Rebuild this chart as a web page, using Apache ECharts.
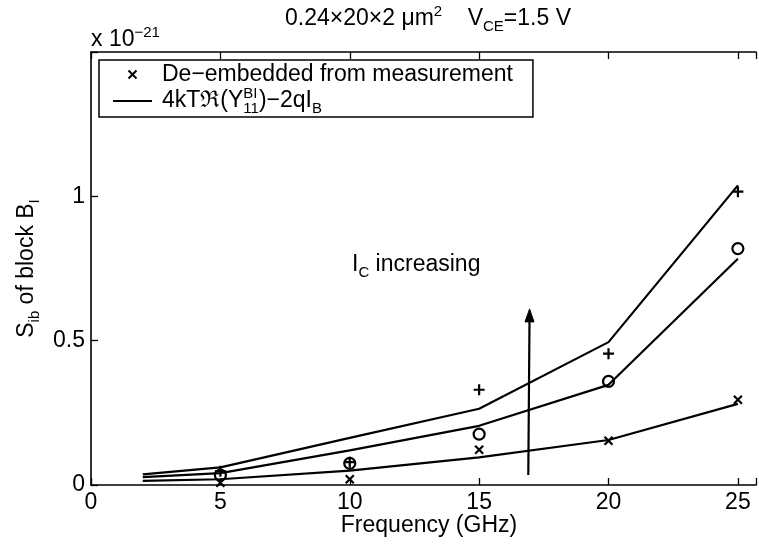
<!DOCTYPE html>
<html>
<head>
<meta charset="utf-8">
<script src="https://cdn.jsdelivr.net/npm/echarts@6/dist/echarts.min.js"></script>
<style>
  html, body { margin: 0; padding: 0; background: #fff; }
  #chart { width: 759px; height: 550px; }
</style>
</head>
<body>
<div id="chart"></div>
<script>
// Frequencies (GHz) of the model curves and of the de-embedded points
const freqModel = [2, 5, 10, 15, 20, 25];
const freqMeas = [5, 10, 15, 20, 25];

// Model curves 4kT Re(Y11^BI) - 2qI_B, in units of 1e-21, low / mid / high I_C
const modelLow  = [0.014, 0.020, 0.050, 0.096, 0.156, 0.281];
const modelMid  = [0.027, 0.041, 0.120, 0.205, 0.347, 0.784];
const modelHigh = [0.037, 0.061, 0.163, 0.264, 0.495, 1.038];

// De-embedded points, same units
const measLow  = [0.008, 0.020, 0.122, 0.153, 0.295];
const measMid  = [0.034, 0.075, 0.176, 0.359, 0.819];
const measHigh = [0.048, 0.079, 0.330, 0.455, 1.016];

// Axis ticks
const xTicks = [0, 5, 10, 15, 20, 25];
const yTicks = [0, 0.5, 1];

// "I_C increasing" arrow: [x0, y0, x1, y1] in data units
const arrowSeg = [16.9, 0.035, 16.95, 0.61];

const FONT = "'Liberation Sans', Arial, Helvetica, sans-serif";
const FS = 23;

const pairs = (xs, ys) => xs.map((x, i) => [x, ys[i]]);

const baseRich = {
  t:   { fontFamily: FONT, fontSize: FS, color: '#000', lineHeight: 30 },
  sup: { fontFamily: FONT, fontSize: 15, color: '#000', lineHeight: 12, verticalAlign: 'top' },
  sub: { fontFamily: FONT, fontSize: 15, color: '#000', lineHeight: 12, verticalAlign: 'bottom' },
  sup0:{ fontFamily: FONT, fontSize: 15, color: '#000', lineHeight: 12, verticalAlign: 'top', width: 0 }
};

const markerX = 'path://M0 0L10 10M10 0L0 10';
const markerPlus = 'path://M5 0L5 10M0 5L10 5';
const legendLine = 'path://M0 0H39V2.2H0Z';

const measName = 'De\u2212embedded from measurement';
const modelName = 'model';

const lineSeries = (data) => ({
  type: 'line',
  name: modelName,
  data: pairs(freqModel, data),
  symbol: 'none',
  lineStyle: { color: '#000', width: 2.2 },
  itemStyle: { color: '#000' },
  silent: true,
  z: 3
});

const markerSeries = (name, data, symbol, size) => ({
  type: 'scatter',
  name: name,
  data: pairs(freqMeas, data),
  symbol: symbol,
  symbolSize: size,
  symbolKeepAspect: true,
  itemStyle: { color: 'rgba(0,0,0,0)', borderColor: '#000', borderWidth: 2.2, opacity: 1 },
  silent: true,
  z: 4
});

const chart = echarts.init(document.getElementById('chart'), null, { renderer: 'canvas' });

const axisCommon = {
  type: 'value',
  axisLine: { show: true, onZero: false, lineStyle: { color: '#000', width: 1.6 } },
  axisTick: { show: true, inside: true, length: 7, lineStyle: { color: '#000', width: 1.3 } },
  splitLine: { show: false }
};

chart.setOption({
  animation: false,
  backgroundColor: '#fff',
  // the box runs on past the right edge of the page; only 0..25.7 GHz is in view
  grid: { left: 91, top: 52, width: 668, height: 433, containLabel: false },
  xAxis: [
    Object.assign({}, axisCommon, {
      position: 'bottom', min: 0, max: 25.7, interval: 5,
      axisLabel: {
        color: '#000', fontFamily: FONT, fontSize: FS, margin: 6,
        formatter: v => (xTicks.includes(v) ? String(v) : '')
      }
    }),
    Object.assign({}, axisCommon, {
      position: 'top', min: 0, max: 25.7, interval: 5,
      axisLabel: { show: false }
    })
  ],
  yAxis: [
    Object.assign({}, axisCommon, {
      position: 'left', min: 0, max: 1.5, interval: 0.5,
      axisLabel: {
        color: '#000', fontFamily: FONT, fontSize: FS, margin: 6,
        formatter: v => (yTicks.includes(v) ? String(v) : '')
      },
      name: '{t|S}{sub|ib}{t| of block B}{sub|I}',
      nameLocation: 'middle', nameRotate: 90, nameGap: 48,
      nameTextStyle: { rich: baseRich }
    })
  ],
  legend: {
    orient: 'vertical',
    left: 99, top: 60,
    padding: [3, 20, 1, 14],
    itemGap: 0,
    itemWidth: 39, itemHeight: 8,
    borderColor: '#000', borderWidth: 1.5,
    backgroundColor: '#fff',
    selectedMode: false,
    symbolKeepAspect: true,
    data: [
      { name: measName, icon: markerX },
      { name: modelName, icon: legendLine, itemStyle: { color: '#000', borderWidth: 0 } }
    ],
    textStyle: {
      color: '#000', fontFamily: FONT, fontSize: FS, padding: [0, 0, 0, 5],
      rich: baseRich
    },
    formatter: name => name === modelName
      ? '{t|4kT\u211C(Y}{sup0|BI}{sub|11}{t|)\u22122qI}{sub|B}'
      : '{t|' + name + '}'
  },
  graphic: [
    {
      type: 'text', x: 428, y: 19,
      style: {
        text: '{t|0.24\u00D720\u00D72 \u03BCm}{sup|2}{t|    V}{sub|CE}{t|=1.5 V}',
        align: 'center', verticalAlign: 'middle', rich: baseRich
      }
    },
    {
      type: 'text', x: 91, y: 40,
      style: {
        text: '{t|x 10}{sup|\u221221}',
        align: 'left', verticalAlign: 'middle', rich: baseRich
      }
    },
    {
      type: 'text', x: 352, y: 265,
      style: {
        text: '{t|I}{sub|C}{t| increasing}',
        align: 'left', verticalAlign: 'middle', rich: baseRich
      }
    },
    {
      type: 'text', x: 429, y: 526,
      style: {
        text: 'Frequency (GHz)', fill: '#000',
        font: FS + 'px ' + FONT,
        align: 'center', verticalAlign: 'middle'
      }
    }
  ],
  series: [
    lineSeries(modelLow),
    lineSeries(modelMid),
    lineSeries(modelHigh),
    markerSeries(measName, measLow, markerX, 8),
    markerSeries('mid', measMid, 'circle', 11),
    markerSeries('high', measHigh, markerPlus, 11),
    {
      type: 'custom',
      name: 'arrow',
      silent: true,
      z: 5,
      data: [arrowSeg],
      encode: { x: [0, 2], y: [1, 3] },
      renderItem: (params, api) => {
        const p0 = api.coord([api.value(0), api.value(1)]);
        const p1 = api.coord([api.value(2), api.value(3)]);
        const dx = p1[0] - p0[0], dy = p1[1] - p0[1];
        const len = Math.sqrt(dx * dx + dy * dy);
        const ux = dx / len, uy = dy / len;
        const headLen = 13, headHalf = 4.5;
        const bx = p1[0] - ux * headLen, by = p1[1] - uy * headLen;
        return {
          type: 'group',
          children: [
            { type: 'line', shape: { x1: p0[0], y1: p0[1], x2: bx, y2: by },
              style: { stroke: '#000', lineWidth: 2.2 } },
            { type: 'polygon',
              shape: { points: [
                [p1[0], p1[1]],
                [bx - uy * headHalf, by + ux * headHalf],
                [bx + uy * headHalf, by - ux * headHalf]
              ] },
              style: { fill: '#000', stroke: '#000', lineWidth: 1 } }
          ]
        };
      }
    }
  ]
});
</script>
</body>
</html>
